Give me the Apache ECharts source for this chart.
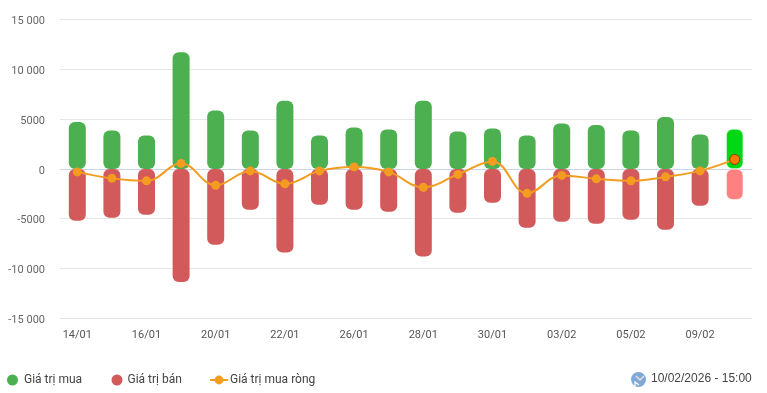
<!DOCTYPE html>
<html>
<head>
<meta charset="utf-8">
<script src="https://cdn.jsdelivr.net/npm/echarts@6/dist/echarts.min.js"></script>
<style>
html, body { margin: 0; padding: 0; background: #fff; }
#chart { width: 767px; height: 393px; }
</style>
</head>
<body>
<div id="chart"></div>
<script>
const dates = ['14/01','15/01','16/01','19/01','20/01','21/01','22/01','23/01','26/01','27/01','28/01','29/01','30/01','02/02','03/02','04/02','05/02','06/02','09/02','10/02'];
const buyValues = [4700,3850,3350,11700,5850,3850,6850,3350,4150,3950,6850,3750,4050,3350,4550,4400,3850,5200,3450,4000];
const sellValues = [-5200,-4900,-4600,-11350,-7600,-4100,-8400,-3600,-4100,-4300,-8800,-4400,-3400,-5900,-5300,-5500,-5100,-6100,-3700,-3100];
const netValues = [-300,-950,-1200,550,-1650,-200,-1500,-200,200,-300,-1850,-550,750,-2450,-650,-1000,-1200,-800,-200,950];
const updatedAt = '10/02/2026 - 15:00';

const fontFamily = 'Roboto, Arial, sans-serif';
const last = dates.length - 1;

// the last column is shown in its hover state
function barData(values, hoverColor) {
	return values.map((v, i) => i === last ? {
		value: v,
		itemStyle: { color: hoverColor, borderColor: '#fff', borderWidth: 0.5 }
	} : v);
}

// one legend per series, the marks have different widths and the gaps are uneven
function legendAt(left, name, icon, width, textGap) {
	return {
		left: left,
		top: 369,
		itemWidth: width,
		itemHeight: 11,
		itemGap: 0,
		textStyle: { color: '#444', fontSize: 12, fontFamily: fontFamily, padding: [0, 0, 2, textGap] },
		data: [icon ? { name: name, icon: icon } : { name: name }]
	};
}

let myChart = echarts.init(document.getElementById('chart'));

let option = {
	animation: false,
	textStyle: { fontFamily: fontFamily },
	grid: { left: 60, right: 15, top: 19.4, bottom: 74.6 },
	legend: [
		legendAt(2, 'Giá trị mua', 'circle', 11, 1),
		legendAt(106.5, 'Giá trị bán', 'circle', 11, 0),
		legendAt(204, 'Giá trị mua ròng', null, 18, -3)
	],
	xAxis: {
		type: 'category',
		data: dates,
		axisLine: { lineStyle: { color: '#ccd6eb' } },
		axisTick: { show: false },
		axisLabel: { interval: 1, color: '#555', fontSize: 11, margin: 11, fontFamily: fontFamily }
	},
	yAxis: {
		type: 'value',
		min: -15000,
		max: 15000,
		interval: 5000,
		axisLine: { show: false },
		axisTick: { show: false },
		splitLine: { lineStyle: { color: '#e6e6e6' } },
		axisLabel: {
			color: '#666',
			fontSize: 11,
			margin: 15,
			verticalAlign: 'top',
			lineHeight: 4,
			fontFamily: fontFamily,
			formatter: function (v) {
				// thousands get a space only from five digits up
				let s = String(Math.abs(v));
				if (s.length > 4) s = s.slice(0, -3) + ' ' + s.slice(-3);
				return (v < 0 ? '-' : '') + s;
			}
		}
	},
	series: [
		{
			name: 'Giá trị mua',
			type: 'bar',
			stack: 'total',
			barWidth: 17,
			itemStyle: { color: '#4caf50', borderRadius: 6 },
			data: barData(buyValues, '#00d815')
		},
		{
			name: 'Giá trị bán',
			type: 'bar',
			stack: 'total',
			barWidth: 17,
			itemStyle: { color: '#d25a5a', borderRadius: 6 },
			data: barData(sellValues, '#ff8080')
		},
		{
			name: 'Giá trị mua ròng',
			type: 'line',
			smooth: 0.4,
			symbol: 'circle',
			symbolSize: 9,
			lineStyle: { color: '#f39c1f', width: 2 },
			itemStyle: { color: '#f39c1f' },
			z: 5,
			data: netValues.map((v, i) => i === last ? {
				value: v,
				symbolSize: 10,
				itemStyle: { color: '#ff7a00', borderColor: '#8a3d10', borderWidth: 1 }
			} : v)
		}
	],
	graphic: [
		{
			type: 'group',
			left: 631,
			top: 372,
			children: [
				{ type: 'circle', shape: { cx: 7.5, cy: 7.5, r: 7.5 }, style: { fill: '#7fa8d6' } },
				{ type: 'polyline', shape: { points: [[5, 4], [9, 8], [13, 4]] }, style: { stroke: '#e8dede', lineWidth: 1.5, fill: null } },
				{ type: 'polyline', shape: { points: [[4, 14], [4, 10], [8, 13]] }, style: { stroke: '#fff', lineWidth: 1.2, fill: null } }
			]
		},
		{
			type: 'text',
			left: 651,
			top: 373,
			style: { text: updatedAt, fill: '#444', font: '12px "Liberation Sans", Arial, sans-serif' }
		}
	]
};

myChart.setOption(option);
</script>
</body>
</html>
